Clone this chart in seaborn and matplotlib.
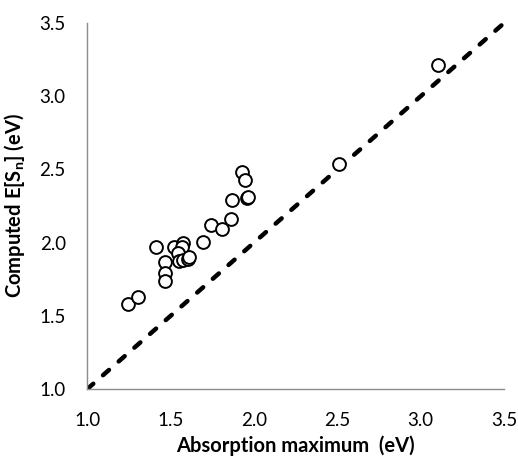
import matplotlib
matplotlib.use("Agg")
import matplotlib.pyplot as plt
import seaborn as sns
import pandas as pd

# Measured absorption maxima vs. computed excitation energies (eV)
absorption_max = [1.245, 1.305, 1.41, 1.468, 1.468, 1.468, 1.52, 1.576, 1.566,
                  1.542, 1.548, 1.572, 1.602, 1.612, 1.692, 1.742, 1.808, 1.86,
                  1.868, 1.926, 1.944, 1.956, 1.962, 2.512, 3.102]
computed_es = [1.58, 1.63, 1.97, 1.868, 1.795, 1.738, 1.968, 1.999, 1.972,
               1.931, 1.874, 1.881, 1.89, 1.90, 2.006, 2.122, 2.09, 2.16,
               2.289, 2.48, 2.428, 2.302, 2.312, 2.535, 3.213]

# y = x reference line
identity = [1.0, 3.5]
ticks = [1.0, 1.5, 2.0, 2.5, 3.0, 3.5]
tick_labels = ["1.0", "1.5", "2.0", "2.5", "3.0", "3.5"]

sns.set_theme(style="white")
plt.rcParams["font.family"] = ["Lato", "DejaVu Sans"]

df = pd.DataFrame({"x": absorption_max, "y": computed_es})
diag = pd.DataFrame({"x": identity, "y": identity})

fig = plt.figure(figsize=(5.18, 4.62), dpi=100)
ax = fig.add_axes([0.1685, 0.158, 0.8045, 0.792])

sns.lineplot(data=diag, x="x", y="y", ax=ax, color="black", linewidth=3.2,
             linestyle=(0, (1.8, 2.9)), dash_capstyle="round", zorder=2)
sns.scatterplot(data=df, x="x", y="y", ax=ax, s=85, facecolor="white",
                edgecolor="black", linewidth=1.4, zorder=3, clip_on=False)

ax.set_xlim(1.0, 3.5)
ax.set_ylim(1.0, 3.5)
ax.set_xticks(ticks)
ax.set_xticklabels(tick_labels)
ax.set_yticks(ticks)
ax.set_yticklabels(tick_labels)

for side in ["top", "right"]:
    ax.spines[side].set_visible(False)
for side in ["left", "bottom"]:
    ax.spines[side].set_color("#8c8c8c")
    ax.spines[side].set_linewidth(1.0)

ax.tick_params(axis="both", which="major", direction="out", length=4.5,
               width=1.0, color="#8c8c8c", labelsize=13.5, labelcolor="black")
ax.tick_params(axis="y", pad=11)
ax.tick_params(axis="x", pad=12)

ax.set_xlabel("Absorption maximum  (eV)", fontsize=14.5, fontweight="bold",
              color="black", labelpad=5)
ax.set_ylabel(r"Computed E[S$_\mathregular{n}$] (eV)", fontsize=14.5,
              fontweight="bold", color="black", labelpad=9)

fig.savefig("out.png", dpi=100)
